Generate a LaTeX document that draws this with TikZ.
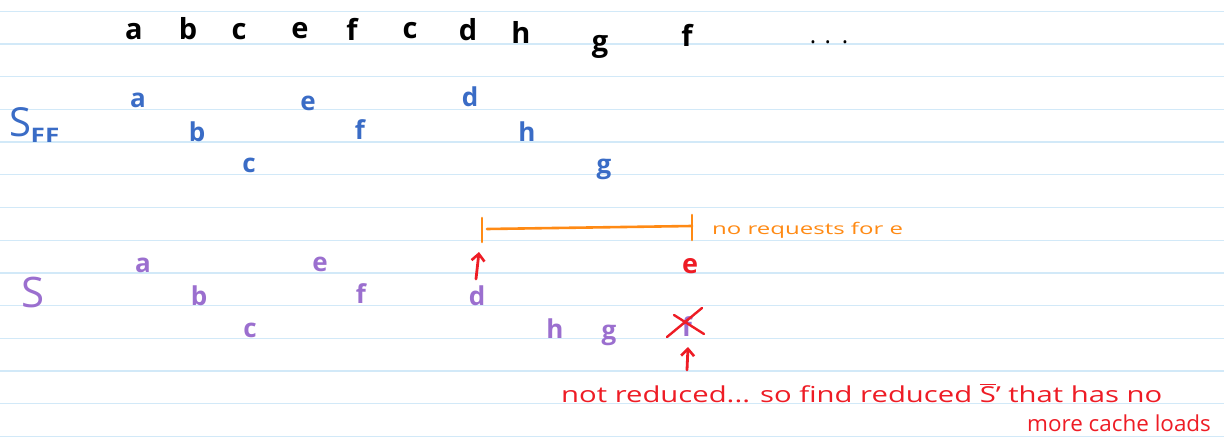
\documentclass[tikz,border=0pt]{standalone}
\usepackage{fontspec}
\setmainfont{Open Sans}
\usetikzlibrary{arrows.meta}
\definecolor{blueink}{HTML}{3A6CC6}
\definecolor{purpink}{HTML}{9B6FCF}
\definecolor{redink}{HTML}{EE1C25}
\definecolor{orangeink}{HTML}{FF8A14}
\definecolor{ruleline}{HTML}{D2E9F8}
\begin{document}
\begin{tikzpicture}[x=1pt,y=-1pt,
  blk/.style={anchor=base,inner sep=0pt,text=black,font=\fontsize{29}{32}\selectfont\bfseries},
  blu/.style={anchor=base,inner sep=0pt,text=blueink,font=\fontsize{26}{30}\selectfont\bfseries},
  pur/.style={anchor=base,inner sep=0pt,text=purpink,font=\fontsize{26}{30}\selectfont\bfseries},
  rednote/.style={anchor=base west,inner sep=0pt,text=redink,font=\fontsize{22}{26}\selectfont},
  orangenote/.style={anchor=base west,inner sep=0pt,text=orangeink,font=\fontsize{16}{19}\selectfont},
  redarrow/.style={draw=redink,line width=2.8pt,line cap=round,-{Straight Barb[length=7pt,width=13pt,line width=2.6pt]}},
  bar/.style={draw=orangeink,line width=2.6pt,line cap=round},
  ruled/.style={draw=ruleline,line width=1.4pt}]
\useasboundingbox (0,0) rectangle (1224,441);
\fill[white] (0,0) rectangle (1224,441);
% ruled paper
\foreach \k in {0,...,13}{
  \draw[ruled] (0,{11.3+32.7*\k}) -- (1224,{11.3+32.7*\k});
}
% black request sequence
\node[blk] (r1) at (134,40) {a};
\node[blk] (r2) at (188,40) {b};
\node[blk] (r3) at (239,40) {c};
\node[blk] (r4) at (300,39) {e};
\node[blk] (r5) at (352,41) {f};
\node[blk] (r6) at (410,39) {c};
\node[blk] (r7) at (468,41) {d};
\node[blk] (r8) at (521,44) {h};
\node[blk] (r9) at (600,52) {g};
\node[blk] (r10) at (687,47) {f};
\node[anchor=base,inner sep=0pt,font=\fontsize{24}{28}\selectfont] (dots) at (829,44) {.\hspace{0.35em}.\hspace{0.45em}.};
% S_FF (blue)
\node[anchor=base,inner sep=0pt,text=blueink,font=\fontsize{40}{44}\selectfont] (sff) at (20,137) {S};
\node[anchor=base,inner sep=0pt,text=blueink,font=\fontsize{20}{24}\selectfont\bfseries] (sffsub) at (45,143) {\scalebox{1.3}[1]{FF}};
\node[blu] (b1) at (138,108) {a};
\node[blu] (b2) at (197,142) {b};
\node[blu] (b3) at (249,173) {c};
\node[blu] (b4) at (308,111) {e};
\node[blu] (b5) at (360,140) {f};
\node[blu] (b6) at (470,107) {d};
\node[blu] (b7) at (527,142) {h};
\node[blu] (b8) at (604,174) {g};
% S (purple)
\node[anchor=base,inner sep=0pt,text=purpink,font=\fontsize{42}{46}\selectfont] (s) at (33,307) {S};
\node[pur] (p1) at (143,272) {a};
\node[pur] (p2) at (199,305) {b};
\node[pur] (p3) at (250,337) {c};
\node[pur] (p4) at (320,271) {e};
\node[pur] (p5) at (361,303) {f};
\node[pur] (p6) at (477,305) {d};
\node[pur] (p7) at (555,338) {h};
\node[pur] (p8) at (609,339) {g};
\node[pur] (p9) at (687,336) {f};
% red e
\node[anchor=base,inner sep=0pt,text=redink,font=\fontsize{27}{30}\selectfont\bfseries] (re) at (690,273) {e};
% cross over f
\draw[draw=redink,line width=2.4pt,line cap=round] (674,315) -- (704,334);
\draw[draw=redink,line width=2.4pt,line cap=round] (667,337) -- (702,308);
% orange interval
\coordinate (tl1) at (482,218);
\coordinate (tl2) at (482,242);
\coordinate (tr1) at (692,215);
\coordinate (tr2) at (692,240);
\coordinate (bl) at (487,229);
\coordinate (br) at (692,226);
\draw[bar] (tl1) -- (tl2);
\draw[bar] (tr1) -- (tr2);
\draw[bar] (bl) -- (br);
\node[orangenote] (nore) at (712,234) {\scalebox{1.5}[1]{no requests for e}};
% red arrows
\coordinate (a1s) at (476,279);
\coordinate (a1e) at (479,252);
\draw[redarrow] (a1s) -- (a1e);
\coordinate (a2s) at (687,370);
\coordinate (a2e) at (688,347);
\draw[redarrow] (a2s) -- (a2e);
% red note
\node[rednote] (note1) at (561,402) {\scalebox{1.33}[1]{not reduced... so find reduced $\overline{\mbox{S}}$' that has no}};
\node[rednote] (note2) at (1027,431) {\scalebox{1.02}[1]{more cache loads}};
\end{tikzpicture}
\end{document}
